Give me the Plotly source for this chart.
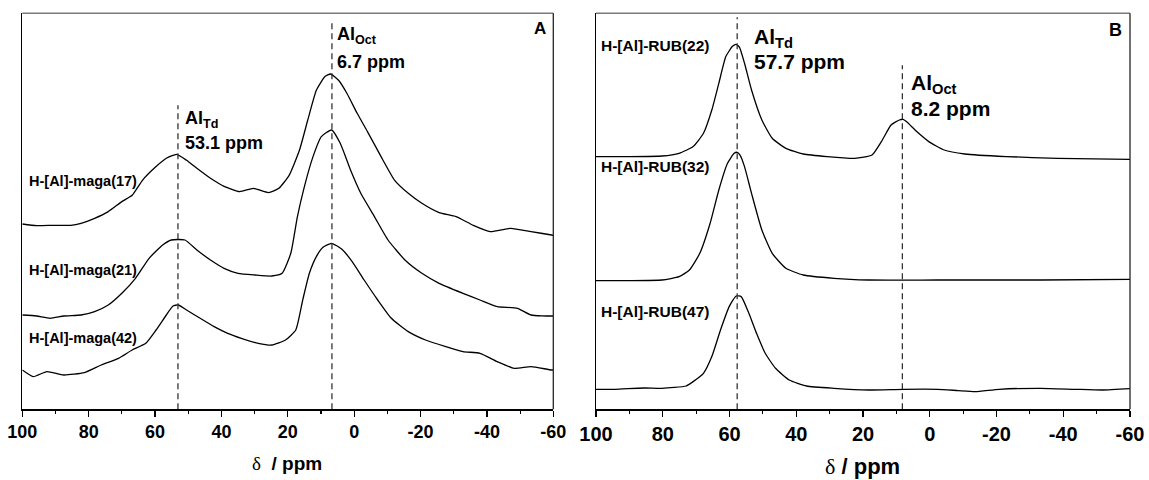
import plotly.graph_objects as go

# ---------------- Panel A : H-[Al]-maga samples (27Al MAS NMR) ----------------
a17_ppm = [100, 95.7, 90.5, 85.4, 82.3, 78.2, 74.1, 70, 66.9, 63.8, 59.7, 56.6, 53.5, 50.5, 47.4,
           43.3, 39.2, 34.5, 30.4, 25.8, 22.7, 19.6, 16.5, 14, 11.4, 8.8, 7.1, 4.7, 2.2, -0.9, -4,
           -8.1, -12.2, -16.3, -20.4, -25.6, -30.7, -35.9, -41, -47.2, -53.3, -59.5, -60]
a17_int = [185.3, 183.7, 184, 184, 186, 191, 197.7, 207.7, 214, 229, 242.7, 251, 255, 249, 241,
           231, 223, 217.7, 221, 216.7, 221, 234, 259, 289, 319, 332.7, 335.3, 329, 316, 296, 277.7,
           252.7, 229, 216, 206, 196.7, 192.7, 184, 177.7, 181, 177.7, 174.3, 174]

a21_ppm = [100, 95.7, 91.6, 87.5, 82.3, 78.2, 74.1, 70, 65.9, 61.8, 57.7, 55.1, 51, 47.4, 43.3,
           39.2, 35, 29.9, 24.8, 21.7, 19.1, 17.1, 15, 12.4, 9.9, 6.8, 4.2, 1.1, -2, -6.1, -10.2,
           -15.3, -20.4, -25.6, -32.8, -37.9, -43.1, -49.2, -53.3, -59.5, -60]
a21_int = [94.3, 93.3, 91, 93.3, 94.3, 97.7, 104.3, 116, 131, 151, 164.3, 169.3, 169.3, 159.3, 149.3,
           141, 136, 134.3, 133.3, 136, 156, 192.7, 222.7, 252.7, 272.7, 279.3, 266, 239.3, 216, 192.7, 169.3,
           149.3, 136, 126, 116, 109.3, 102.7, 101, 94.3, 93.3, 93.5]

a42_ppm = [100, 96.7, 92.6, 87.5, 81.3, 76.2, 71, 66.9, 62.8, 59.7, 56.6, 54.6, 53, 50.5, 46.4,
           42.2, 38.1, 34, 28.9, 24.8, 20.7, 17.6, 15.5, 13.5, 11.4, 9.4, 6.8, 3.7, 0.6, -3, -7.1,
           -11.2, -16.3, -21.5, -27.6, -32.8, -37.9, -43.1, -48.2, -53.3, -59.5, -60]
a42_int = [39.3, 32.7, 37.7, 34.3, 36.7, 44.3, 51, 59.3, 66, 79.3, 94.3, 103.3, 104.3, 99.3, 91,
           82.7, 76, 71, 66, 64.3, 69.3, 79.3, 109.3, 136, 152.7, 162, 166, 160, 147.7, 129.3, 109.3,
           91, 77.7, 69.3, 62.7, 57.7, 56, 47.7, 41, 42.7, 39.3, 39.5]

# ---------------- Panel B : H-[Al]-RUB samples ----------------
b22_ppm = [100, 90.5, 80.2, 75.1, 70.9, 67.8, 65.3, 63.2, 61.1, 59.1, 58.0, 57.0, 55.5, 53.4, 50.3,
           47.2, 43.1, 37.9, 30.7, 22.5, 17.3, 14.2, 11.6, 9.1, 8.0, 7.0, 3.9, 0.3, -4.3, -10.5, -22.9,
           -38.4, -60]
b22_int = [252.7, 252.7, 253.3, 256, 262.7, 276, 299.3, 326, 352.7, 363, 365, 362, 346, 319.3, 289.3,
           271, 261, 255.3, 252.7, 251, 254.3, 269.3, 284.3, 289.3, 290, 287.7, 277.7, 267.7, 259.3, 255.3, 252.7,
           251, 250]

b32_ppm = [100, 90.5, 80.2, 75.1, 72, 68.9, 65.8, 63.2, 60.6, 58.6, 57.7, 56.8, 55.5, 53.4, 50.3,
           47.2, 43.1, 37.9, 28.7, 18.4, -2.3, -33.2, -60]
b32_int = [128.7, 128.7, 129.3, 132.7, 139.3, 156, 186, 219.3, 246, 256, 257, 254, 242.7, 216, 179.3,
           156, 141, 134.3, 131, 129.3, 129.3, 129.3, 130]

b47_ppm = [100, 94.6, 90.5, 85.4, 80.2, 73, 70.9, 67.8, 65.3, 62.7, 60.1, 58, 56.5, 54.4, 51.9,
           49.3, 46.2, 42.1, 36.9, 28.7, 18.4, 8, -2.3, -8.5, -13.6, -20.8, -33.2, -43.5, -51.8, -60]
b47_int = [20, 20, 20.7, 21.3, 21, 23.3, 27.7, 36, 52.7, 79.3, 102.7, 113.3, 112.7, 97.7, 76,
           56, 41, 29.3, 23.3, 21, 19.3, 20, 20, 18.7, 17.7, 20, 21, 20, 19.3, 20.7]

labels_a = ["H-[Al]-maga(17)", "H-[Al]-maga(21)", "H-[Al]-maga(42)"]
labels_b = ["H-[Al]-RUB(22)", "H-[Al]-RUB(32)", "H-[Al]-RUB(47)"]

peaks_a = [53.1, 6.7]          # AlTd, AlOct
peaks_b = [57.7, 8.2]          # AlTd, AlOct
peak_tops_a = [304, 389]       # height at which dashed markers end
peak_tops_b = [392, 344]

tick_vals = [100, 80, 60, 40, 20, 0, -20, -40, -60]
tick_text = [str(v) for v in tick_vals]

FONT = "Arial, Liberation Sans, sans-serif"

fig = go.Figure()

line_style = dict(color="black", width=1.3, shape="spline", smoothing=0.5)
for px, py in [(a17_ppm, a17_int), (a21_ppm, a21_int), (a42_ppm, a42_int)]:
    fig.add_trace(go.Scatter(x=px, y=py, mode="lines", line=line_style,
                             xaxis="x", yaxis="y", showlegend=False, hoverinfo="skip"))
for px, py in [(b22_ppm, b22_int), (b32_ppm, b32_int), (b47_ppm, b47_int)]:
    fig.add_trace(go.Scatter(x=px, y=py, mode="lines", line=line_style,
                             xaxis="x2", yaxis="y2", showlegend=False, hoverinfo="skip"))

dash_style = dict(color="#333333", width=1.3, dash="6px,4px")
for p, t in zip(peaks_a, peak_tops_a):
    fig.add_trace(go.Scatter(x=[p, p], y=[0, t], mode="lines", line=dash_style,
                             xaxis="x", yaxis="y", showlegend=False, hoverinfo="skip"))
for p, t in zip(peaks_b, peak_tops_b):
    fig.add_trace(go.Scatter(x=[p, p], y=[0, t], mode="lines", line=dash_style,
                             xaxis="x2", yaxis="y2", showlegend=False, hoverinfo="skip"))

W, H = 1149, 480
ybot, ytop = (H - 409.3) / H, (H - 13.3) / H

def xax(domain, tsize):
    return dict(domain=domain, range=[100, -60], anchor=None, automargin=False,
                showline=True, linecolor="black", linewidth=1.5,
                ticks="outside", ticklen=6, tickwidth=1.3, tickcolor="black",
                tickvals=tick_vals, ticktext=tick_text,
                tickfont=dict(family=FONT, size=tsize, color="black", weight="bold"),
                minor=dict(ticks="outside", ticklen=3, tickwidth=1.2, tickcolor="black", dtick=10, tick0=0),
                showgrid=False, zeroline=False, fixedrange=True)

def yax(anchor):
    return dict(domain=[ybot, ytop], range=[0, 396], anchor=anchor, automargin=False,
                showline=True, linecolor="black", linewidth=1.5,
                showticklabels=False, ticks="", showgrid=False, zeroline=False, fixedrange=True)

xa = xax([22.3 / W, 553.3 / W], 18)
xa["anchor"] = "y"
xb = xax([596 / W, 1130 / W], 20)
xb["anchor"] = "y2"

shapes = []
for xr, yr in [("x", "y"), ("x2", "y2")]:
    shapes.append(dict(type="line", xref=xr + " domain", yref=yr + " domain",
                       x0=0, x1=1, y0=1, y1=1, line=dict(color="#7a7a7a", width=1.5)))
    shapes.append(dict(type="line", xref=xr + " domain", yref=yr + " domain",
                       x0=1, x1=1, y0=0, y1=1, line=dict(color="#222222", width=1.3)))

ann = []
def add(text, x, y, xr, yr, size, xanchor="left", yanchor="middle"):
    ann.append(dict(text=text, x=x, y=y, xref=xr, yref=yr, showarrow=False,
                    xanchor=xanchor, yanchor=yanchor,
                    font=dict(family=FONT, size=size, color="black", weight="bold")))

# Panel A annotations
for lab, h in zip(labels_a, [228.6, 139.3, 71]):
    add(lab, 98.6, h, "x", "y", 14.5)
add("Al<sub>Td</sub>", 51.7, 290, "x", "y", 18)
add("53.1 ppm", 51.7, 266, "x", "y", 18)
add("Al<sub>Oct</sub>", 5.8, 374, "x", "y", 18)
add("6.7 ppm", 5.8, 347.6, "x", "y", 18)
add("A", -56, 381, "x", "y", 17, xanchor="center")

# Panel B annotations
for lab, h in zip(labels_b, [364.3, 243.3, 98.3]):
    add(lab, 99.1, h, "x2", "y2", 15.5)
add("Al<sub>Td</sub>", 53.3, 371, "x2", "y2", 21)
add("57.7 ppm", 53.3, 347.6, "x2", "y2", 21)
add("Al<sub>Oct</sub>", 6.2, 325, "x2", "y2", 21)
add("8.2 ppm", 6.2, 301, "x2", "y2", 21)
add("B", -55.8, 379, "x2", "y2", 18, xanchor="center")

# axis titles
ann.append(dict(text="<span style='font-family:Liberation Serif'>δ</span>  <b>/ ppm</b>",
                x=287 / W, y=(H - 463) / H, xref="paper", yref="paper", showarrow=False,
                xanchor="center", yanchor="middle",
                font=dict(family=FONT, size=19, color="black")))
ann.append(dict(text="<span style='font-family:Liberation Serif'>δ</span> <b>/ ppm</b>",
                x=862 / W, y=(H - 466) / H, xref="paper", yref="paper", showarrow=False,
                xanchor="center", yanchor="middle",
                font=dict(family=FONT, size=22, color="black")))

fig.update_layout(
    width=W, height=H,
    margin=dict(l=0, r=0, t=0, b=0, autoexpand=False),
    paper_bgcolor="white", plot_bgcolor="white",
    xaxis=xa, yaxis=yax("x"),
    xaxis2=xb, yaxis2=yax("x2"),
    shapes=shapes, annotations=ann,
    showlegend=False,
)

fig.write_html("out.html",
               config={"displayModeBar": False, "staticPlot": True},
               post_script="document.body.style.margin='0';document.body.style.padding='0';"
                           "document.body.style.overflow='hidden';")
